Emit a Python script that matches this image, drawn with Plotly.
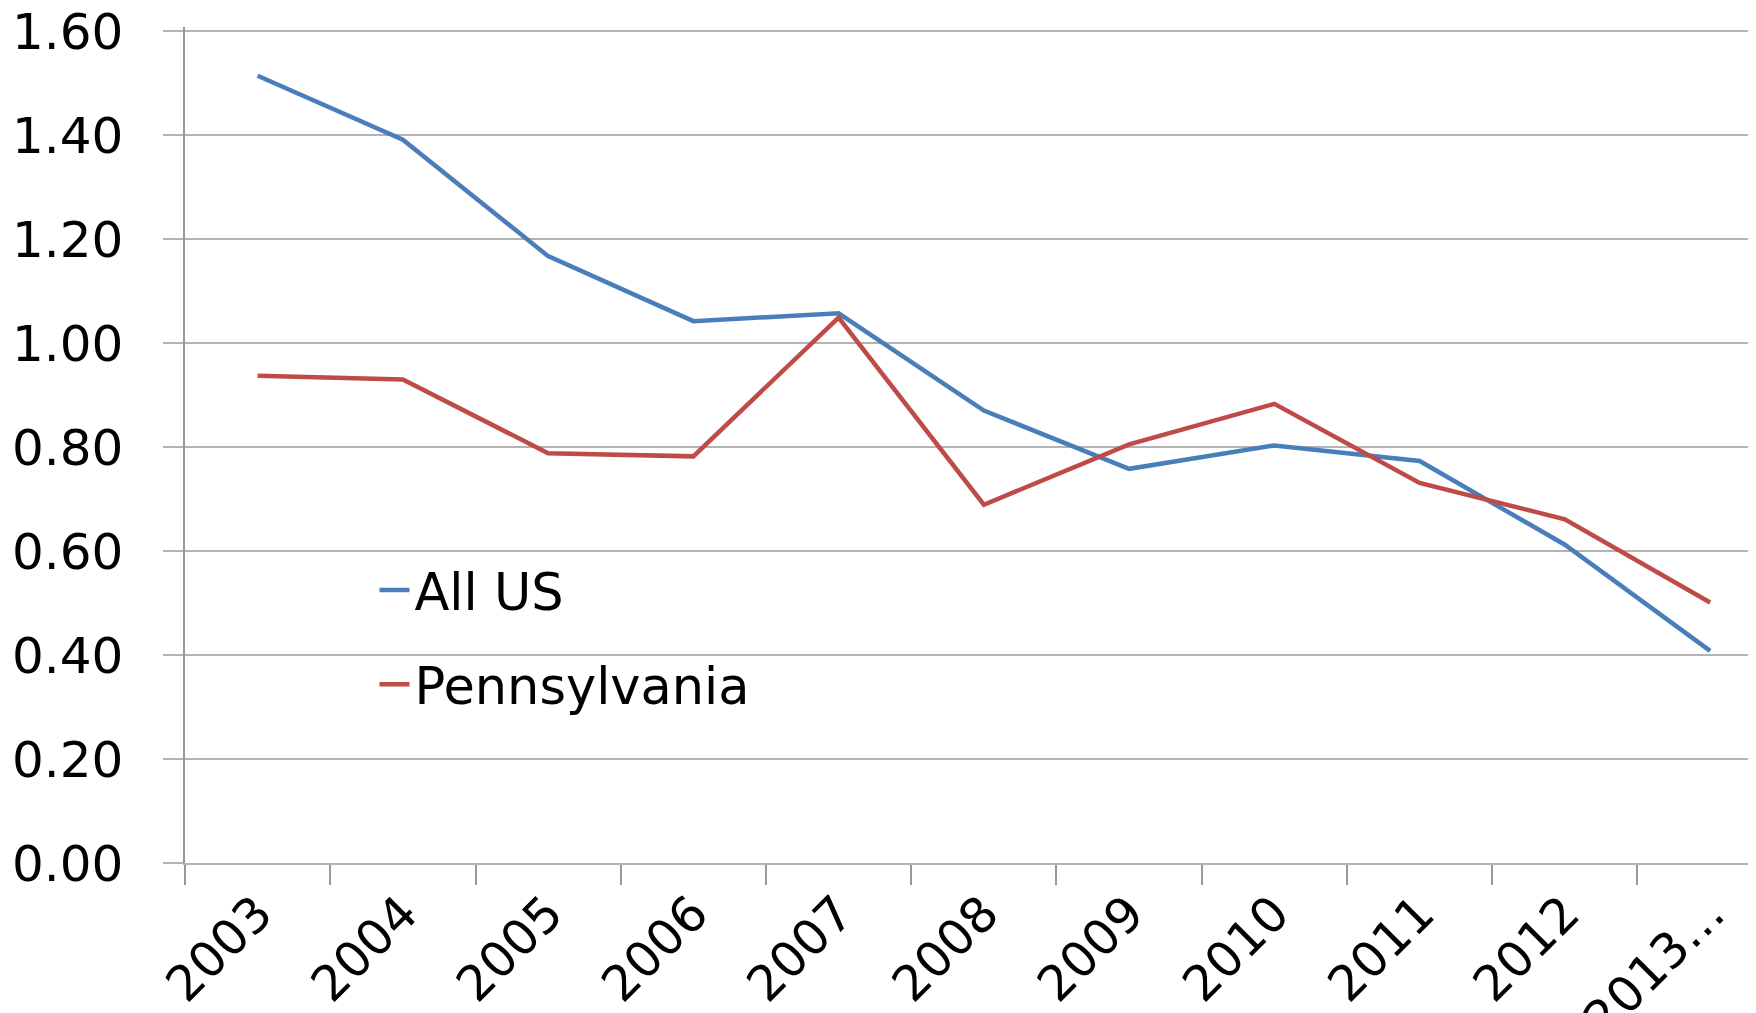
import plotly.graph_objects as go

years = ["2003", "2004", "2005", "2006", "2007", "2008", "2009", "2010", "2011", "2012", "2013…"]
all_us = [1.514, 1.391, 1.167, 1.042, 1.057, 0.870, 0.758, 0.803, 0.773, 0.612, 0.408]
pennsylvania = [0.937, 0.930, 0.788, 0.782, 1.049, 0.689, 0.805, 0.883, 0.731, 0.661, 0.501]
y_ticks = [0.0, 0.2, 0.4, 0.6, 0.8, 1.0, 1.2, 1.4, 1.6]

FONT = "DejaVu Sans"
GRID = "#B3B3B3"
FS = 50

fig = go.Figure()
fig.add_trace(go.Scatter(x=years, y=all_us, mode="lines", name="All US",
                         line=dict(color="#4A7EBB", width=4.5), legendgroup="a"))
fig.add_trace(go.Scatter(x=years, y=pennsylvania, mode="lines", name="Pennsylvania",
                         line=dict(color="#BE4B48", width=4.5), legendgroup="b"))

fig.update_layout(
    width=1756, height=1013,
    margin=dict(l=177, r=0, t=19, b=158),
    paper_bgcolor="white", plot_bgcolor="white",
    font=dict(family=FONT, size=FS, color="black"),
    showlegend=True,
    legend=dict(x=0.12, y=0.374, xanchor="left", yanchor="top",
                bgcolor="rgba(0,0,0,0)", font=dict(size=51, family=FONT),
                tracegroupgap=25, traceorder="grouped"),
    xaxis=dict(type="category", range=[-0.5, 10.371], showgrid=False, automargin=False,
               ticks="outside", tickson="boundaries", ticklen=20, tickcolor="#999999",
               tickwidth=1.5, showline=True, linecolor=GRID, linewidth=1.5,
               tickangle=-45, tickfont=dict(size=49, family=FONT),
               ticklabeloverflow="allow"),
    yaxis=dict(range=[0, 1.6077], tickvals=y_ticks, tickformat=".2f", automargin=False,
               showgrid=True, gridcolor=GRID, gridwidth=1.5,
               ticks="outside", ticklen=20, tickcolor=GRID, tickwidth=1.5,
               showline=True, linecolor="#999999", linewidth=1.5,
               zeroline=False, ticklabelstandoff=30, ticklabeloverflow="allow",
               tickfont=dict(size=FS, family=FONT)),
)

fig.write_html("out.html")
